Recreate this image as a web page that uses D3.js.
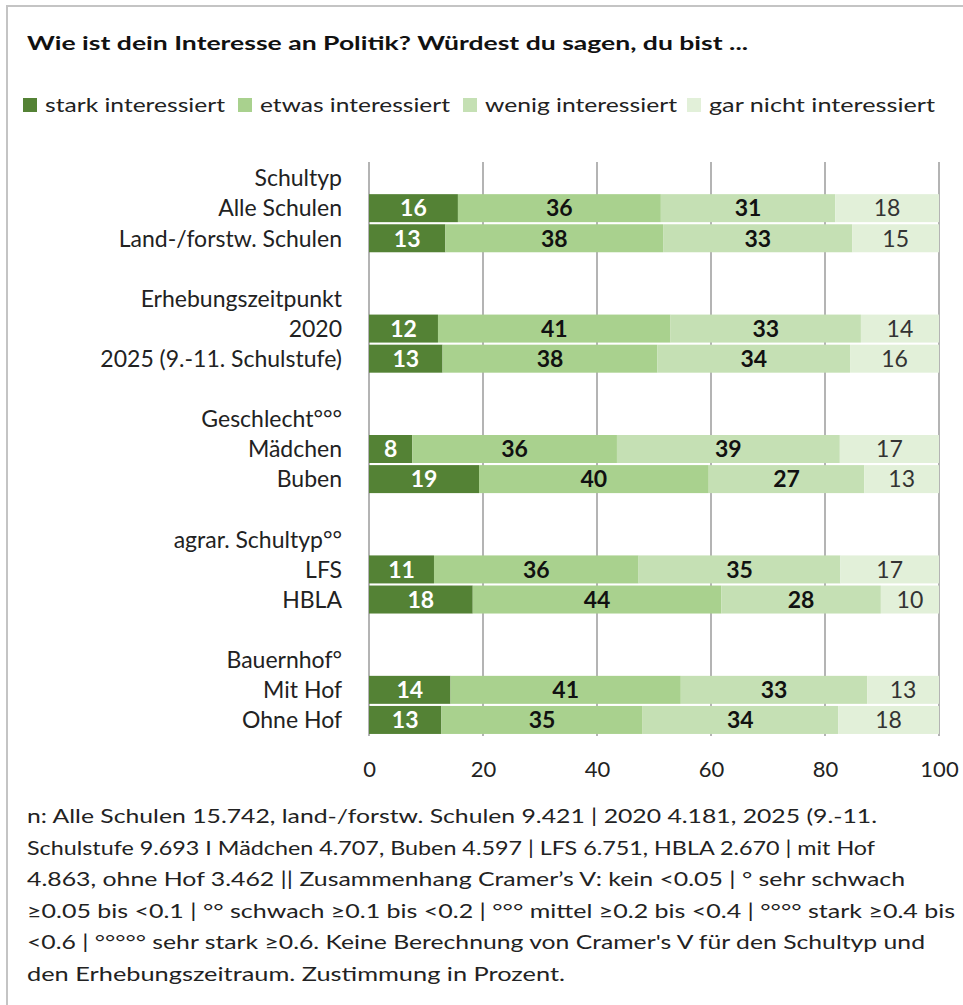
<!DOCTYPE html>
<html>
<head>
<meta charset="utf-8">
<script src="https://cdn.jsdelivr.net/npm/d3@7"></script>
<style>
  body { margin: 0; background: #fff; }
  svg text { font-family: Lato, "Open Sans", sans-serif; }
</style>
</head>
<body>
<main></main>
<script>
// rows on the y axis, "" marks an empty spacer row
const rowLabels = [
    "Schultyp", "Alle Schulen", "Land-/forstw. Schulen", "",
    "Erhebungszeitpunkt", "2020", "2025 (9.-11. Schulstufe)", "",
    "Geschlecht°°°", "Mädchen", "Buben", "",
    "agrar. Schultyp°°", "LFS", "HBLA", "",
    "Bauernhof°", "Mit Hof", "Ohne Hof"
];
const barRows = [1, 2, 5, 6, 9, 10, 13, 14, 17, 18];

const seriesNames = ["stark interessiert", "etwas interessiert", "wenig interessiert", "gar nicht interessiert"];
const stark    = [15.6, 13.4, 12.1, 12.9,  7.6, 19.3, 11.4, 18.2, 14.3, 12.7];
const etwas    = [35.6, 38.2, 40.8, 37.7, 35.9, 40.3, 35.9, 43.6, 40.4, 35.3];
const wenig    = [30.6, 33.2, 33.4, 33.8, 39.1, 27.3, 35.4, 28.0, 32.7, 34.3];
const garNicht = [18.2, 15.2, 13.7, 15.6, 17.4, 13.1, 17.3, 10.2, 12.6, 17.7];
// labels printed in the bars
const labStark    = [16, 13, 12, 13,  8, 19, 11, 18, 14, 13];
const labEtwas    = [36, 38, 41, 38, 36, 40, 36, 44, 41, 35];
const labWenig    = [31, 33, 33, 34, 39, 27, 35, 28, 33, 34];
const labGarNicht = [18, 15, 14, 16, 17, 13, 17, 10, 13, 18];

const xTicks = [0, 20, 40, 60, 80, 100];

const title = "Wie ist dein Interesse an Politik? Würdest du sagen, du bist ...";
const noteLines = [
    "n: Alle Schulen 15.742, land-/forstw. Schulen 9.421 | 2020 4.181, 2025 (9.-11.",
    "Schulstufe 9.693 I Mädchen 4.707, Buben 4.597 | LFS 6.751, HBLA 2.670 | mit Hof",
    "4.863, ohne Hof 3.462 || Zusammenhang Cramer’s V: kein <0.05 | ° sehr schwach",
    "≥0.05 bis <0.1 | °° schwach ≥0.1 bis <0.2 | °°° mittel ≥0.2 bis <0.4 | °°°° stark ≥0.4 bis",
    "<0.6 | °°°°° sehr stark ≥0.6. Keine Berechnung von Cramer's V für den Schultyp und",
    "den Erhebungszeitraum. Zustimmung in Prozent."
];
const noteWidths = [850, 848, 878, 928, 898, 538];

const colors = ["#548235", "#a9d18e", "#c5e0b4", "#e2f0d9"];
const labelColors = ["#ffffff", "#111111", "#111111", "#333333"];
const labelWeights = ["bold", "bold", "bold", "normal"];

const width = 963, height = 1005;
const svg = d3.select("main").append("svg").attr("width", width).attr("height", height);

// frame
svg.append("path")
    .attr("d", `M7,${height} V6 H${width}`)
    .attr("fill", "none")
    .attr("stroke", "#c4c4c4")
    .attr("stroke-width", 2);

svg.append("text")
    .attr("x", 27).attr("y", 50)
    .attr("font-size", 19).attr("font-weight", "bold")
    .attr("fill", "#111")
    .attr("textLength", 721).attr("lengthAdjust", "spacingAndGlyphs")
    .text(title);

// legend
const legendX = [23, 238, 463, 687];
const legendW = [180, 190, 192, 226];
const legend = svg.append("g");
seriesNames.forEach((name, i) => {
    legend.append("rect")
        .attr("x", legendX[i]).attr("y", 98)
        .attr("width", 14).attr("height", 14)
        .attr("fill", colors[i]);
    legend.append("text")
        .attr("x", legendX[i] + 22).attr("y", 112)
        .attr("font-size", 20).attr("fill", "#222")
        .attr("textLength", legendW[i]).attr("lengthAdjust", "spacingAndGlyphs")
        .text(name);
});

const x = d3.scaleLinear().domain([0, 100]).range([369, 939]);
const y = d3.scaleBand()
    .domain(d3.range(rowLabels.length))
    .range([163, 735])
    .paddingInner(0.07)
    .paddingOuter(0.035);

// grid lines
svg.append("g")
    .selectAll("line")
    .data(xTicks)
    .join("line")
    .attr("x1", d => x(d)).attr("x2", d => x(d))
    .attr("y1", 162).attr("y2", 736)
    .attr("stroke", "#b4b4b4")
    .attr("stroke-width", 2);

// x axis labels
const xAxis = svg.append("g")
    .attr("transform", "translate(0,761)")
    .call(d3.axisBottom(x).tickValues(xTicks).tickSize(0).tickPadding(0));
xAxis.select(".domain").remove();
xAxis.selectAll("text")
    .attr("font-size", 22)
    .attr("fill", "#222")
    .attr("font-family", "Lato, sans-serif");

// category labels
svg.append("g")
    .selectAll("text")
    .data(rowLabels)
    .join("text")
    .attr("x", 342)
    .attr("y", (d, i) => y(i) + y.bandwidth() / 2)
    .attr("dy", "0.36em")
    .attr("text-anchor", "end")
    .attr("font-size", 23)
    .attr("fill", "#222")
    .text(d => d);

// stacked bars
const seriesValues = [stark, etwas, wenig, garNicht];
const seriesLabels = [labStark, labEtwas, labWenig, labGarNicht];
const segments = [];
barRows.forEach((row, r) => {
    let start = 0;
    seriesValues.forEach((vals, s) => {
        segments.push({ row, s, x0: start, x1: start + vals[r], label: seriesLabels[s][r] });
        start += vals[r];
    });
});

svg.append("g")
    .selectAll("rect")
    .data(segments)
    .join("rect")
    .attr("x", d => x(d.x0))
    .attr("width", d => x(d.x1) - x(d.x0))
    .attr("y", d => y(d.row))
    .attr("height", y.bandwidth())
    .attr("fill", d => colors[d.s]);

svg.append("g")
    .selectAll("text")
    .data(segments)
    .join("text")
    .attr("x", d => (x(d.x0) + x(d.x1)) / 2)
    .attr("y", d => y(d.row) + y.bandwidth() / 2)
    .attr("dy", "0.36em")
    .attr("text-anchor", "middle")
    .attr("font-size", 23)
    .attr("font-weight", d => labelWeights[d.s])
    .attr("fill", d => labelColors[d.s])
    .text(d => d.label);

// footnote
svg.append("g")
    .selectAll("text")
    .data(noteLines)
    .join("text")
    .attr("x", 27)
    .attr("y", (d, i) => 823 + i * 31.6)
    .attr("font-size", 20)
    .attr("fill", "#222")
    .attr("textLength", (d, i) => noteWidths[i])
    .attr("lengthAdjust", "spacingAndGlyphs")
    .text(d => d);
</script>
</body>
</html>
